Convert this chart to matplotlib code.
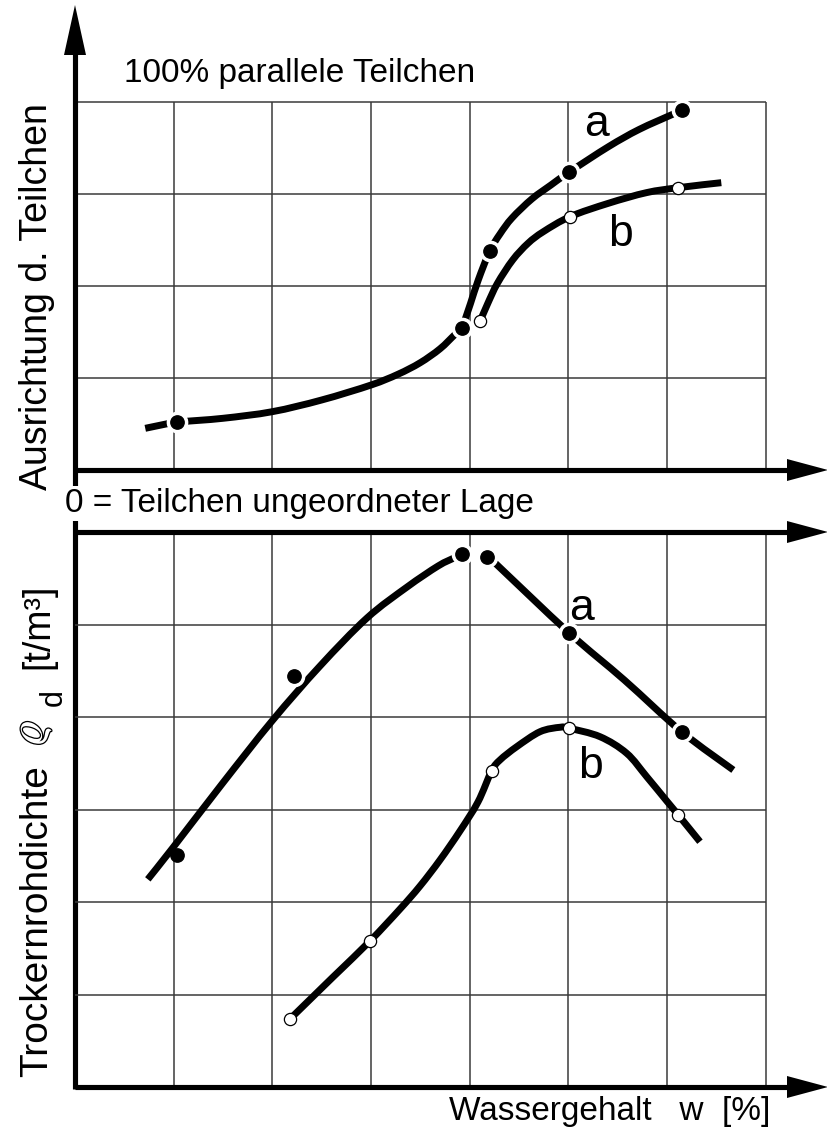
import matplotlib
matplotlib.use("Agg")
import matplotlib.pyplot as plt
import matplotlib.patheffects as pe
from matplotlib.path import Path
from matplotlib.patches import PathPatch

plt.rcParams['font.family'] = ['Liberation Sans', 'DejaVu Sans']

# ---------------- data (grid units) ----------------
# upper panel: particle orientation vs water content
top_a_line1_x = [0.712, 1.031, 1.500, 2.000, 2.500, 3.001, 3.274, 3.497, 3.699, 3.851, 3.924]
top_a_line1_y = [0.453, 0.518, 0.562, 0.634, 0.761, 0.924, 1.041, 1.165, 1.317, 1.473, 1.543]
top_a_line2_x = [3.924, 4.009, 4.087, 4.203, 4.307, 4.429, 4.630, 4.824, 5.010, 5.406, 5.716, 6.065, 6.151]
top_a_line2_y = [1.543, 1.812, 2.065, 2.380, 2.565, 2.739, 2.946, 3.098, 3.239, 3.514, 3.701, 3.870, 3.913]
top_a_pts_x = [1.031, 3.924, 4.203, 5.010, 6.151]
top_a_pts_y = [0.518, 1.543, 2.380, 3.239, 3.913]

top_b_line_x = [4.107, 4.184, 4.281, 4.436, 4.591, 4.746, 5.018, 5.406, 5.793, 6.115, 6.550]
top_b_line_y = [1.620, 1.812, 2.029, 2.283, 2.464, 2.590, 2.754, 2.899, 3.015, 3.069, 3.123]
top_b_pts_x = [4.107, 5.018, 6.115]
top_b_pts_y = [1.620, 2.754, 3.069]

# lower panel: dry density vs water content
bot_a_left_x = [0.738, 0.998, 1.490, 1.997, 2.483, 2.959, 3.365, 3.679, 3.841]
bot_a_left_y = [2.245, 2.595, 3.276, 3.957, 4.551, 5.070, 5.405, 5.632, 5.719]
bot_a_right_x = [4.257, 5.006, 5.567, 6.148, 6.672]
bot_a_right_y = [5.665, 4.911, 4.400, 3.841, 3.427]
bot_a_pts_x = [1.031, 2.221, 3.923, 4.173, 5.006, 6.148]
bot_a_pts_y = [2.508, 4.443, 5.762, 5.733, 4.911, 3.841]

bot_b_line_x = [2.179, 2.615, 2.990, 3.294, 3.497, 3.699, 3.902, 4.084, 4.223, 4.307,
                4.477, 4.713, 4.916, 5.010, 5.321, 5.591, 5.794, 5.997, 6.114, 6.334]
bot_b_line_y = [0.735, 1.189, 1.578, 1.924, 2.173, 2.454, 2.768, 3.081, 3.419, 3.535,
                3.679, 3.841, 3.889, 3.878, 3.787, 3.608, 3.355, 3.092, 2.941, 2.652]
bot_b_pts_x = [2.179, 2.990, 4.223, 5.010, 6.114]
bot_b_pts_y = [0.735, 1.578, 3.419, 3.878, 2.941]

grid_x = [1, 2, 3, 4, 5, 6, 7]
top_grid_y = [1, 2, 3, 4]
bot_grid_y = [1, 2, 3, 4, 5]

# ---------------- figure / layout ----------------
W, H = 828, 1131
fig = plt.figure(figsize=(W / 100, H / 100), dpi=100)

def fx(x):
    return x / W

def fy(y):
    return 1 - y / H

XSTEP = 98.67        # px per grid unit (x)
TSTEP = 92.0         # px per grid unit (upper y)
BSTEP = 92.5         # px per grid unit (lower y)
LEFT, TIP = 75, 828

ax1 = fig.add_axes([fx(LEFT), fy(470), (TIP - LEFT) / W, (470 - 5) / H])
ax1.set_xlim(0, (TIP - LEFT) / XSTEP)
ax1.set_ylim(0, (470 - 5) / TSTEP)
ax2 = fig.add_axes([fx(LEFT), fy(1087), (TIP - LEFT) / W, (1087 - 532) / H])
ax2.set_xlim(0, (TIP - LEFT) / XSTEP)
ax2.set_ylim(0, (1087 - 532) / BSTEP)
for ax in (ax1, ax2):
    ax.axis('off')

GRID_C = '#3a3a3a'
GRID_LW = 1.1
AX_LW = 3.7
xmax_tip = (TIP - LEFT) / XSTEP
x_head = (787 - LEFT) / XSTEP

# grids
ax1.vlines(grid_x, 0, 4, colors=GRID_C, lw=GRID_LW, zorder=1)
ax1.hlines(top_grid_y, 0, 7, colors=GRID_C, lw=GRID_LW, zorder=1)
ax2.vlines(grid_x, 0, 6, colors=GRID_C, lw=GRID_LW, zorder=1)
ax2.hlines(bot_grid_y, 0, 7, colors=GRID_C, lw=GRID_LW, zorder=1)

def h_arrow(ax, y, hh):
    ax.plot([0, x_head + 0.05], [y, y], color='k', lw=AX_LW,
            solid_capstyle='butt', clip_on=False, zorder=5)
    ax.fill([x_head, xmax_tip, x_head], [y - hh, y, y + hh], color='k',
            clip_on=False, zorder=5, lw=0)

h_arrow(ax1, 0, 11 / TSTEP)
h_arrow(ax2, 6, 11 / BSTEP)
h_arrow(ax2, 0, 11 / BSTEP)

# left vertical axis running through both panels with arrow on top
y_bottom = (470 - 1089) / TSTEP
y_head = (470 - 55) / TSTEP
y_tip = (470 - 5) / TSTEP
ax1.plot([0, 0], [y_bottom, y_head + 0.05], color='k', lw=AX_LW,
         solid_capstyle='butt', clip_on=False, zorder=5)
hw = 11 / XSTEP
ax1.fill([-hw, 0, hw], [y_head, y_tip, y_head], color='k', clip_on=False, zorder=5, lw=0)

# ---------------- curves ----------------
LW = 5.0
FMS = 9.6
OMS = 8.8

def curve(ax, xs, ys):
    """Smooth stroke through the read points (Catmull-Rom drawn as Bezier path)."""
    pts = list(zip(xs, ys))
    n = len(pts)
    verts = [pts[0]]
    codes = [Path.MOVETO]
    for i in range(n - 1):
        p0 = pts[i - 1] if i > 0 else pts[i]
        p1 = pts[i]
        p2 = pts[i + 1]
        p3 = pts[i + 2] if i + 2 < n else pts[i + 1]
        c1 = (p1[0] + (p2[0] - p0[0]) / 6, p1[1] + (p2[1] - p0[1]) / 6)
        c2 = (p2[0] - (p3[0] - p1[0]) / 6, p2[1] - (p3[1] - p1[1]) / 6)
        verts += [c1, c2, p2]
        codes += [Path.CURVE4] * 3
    patch = PathPatch(Path(verts, codes), fill=False, ec='k', lw=LW,
                      capstyle='butt', joinstyle='round', zorder=3, clip_on=False)
    ax.add_patch(patch)

def filled(ax, xs, ys, halo=None):
    if halo is None:
        halo = list(range(len(xs)))
    hx = [xs[i] for i in halo]
    hy = [ys[i] for i in halo]
    ax.plot(hx, hy, ls='none', marker='o', ms=FMS + 5, mfc='white', mec='white',
            clip_on=False, zorder=4)
    ax.plot(xs, ys, ls='none', marker='o', ms=FMS, mfc='k', mec='k',
            clip_on=False, zorder=6)

def hollow(ax, xs, ys):
    ax.plot(xs, ys, ls='none', marker='o', ms=OMS, mfc='white', mec='k', mew=0.9,
            clip_on=False, zorder=6)

curve(ax1, top_a_line1_x, top_a_line1_y)
curve(ax1, top_a_line2_x, top_a_line2_y)
filled(ax1, top_a_pts_x, top_a_pts_y)
curve(ax1, top_b_line_x, top_b_line_y)
hollow(ax1, top_b_pts_x, top_b_pts_y)

curve(ax2, bot_a_left_x, bot_a_left_y)
curve(ax2, bot_a_right_x, bot_a_right_y)
filled(ax2, bot_a_pts_x, bot_a_pts_y, halo=[1, 2, 3, 4, 5])
curve(ax2, bot_b_line_x, bot_b_line_y)
hollow(ax2, bot_b_pts_x, bot_b_pts_y)

# ---------------- texts ----------------
def ptext(x, y, s, size, **kw):
    return fig.text(fx(x), fy(y), s, fontsize=size, ha=kw.pop('ha', 'left'),
                    va=kw.pop('va', 'baseline'), **kw)

ptext(124, 82, "100% parallele Teilchen", 24)
ptext(65, 512, "0 = Teilchen ungeordneter Lage", 24, zorder=10,
      bbox=dict(boxstyle='square,pad=0.05', fc='white', ec='none'))
ptext(449, 1120, "Wassergehalt   w  [%]", 24)

ptext(584, 136, "a", 32)
ptext(608, 246, "b", 32)
ptext(569, 620, "a", 32)
ptext(578, 778, "b", 32)

# rotated y labels
def vtext(x, y, s, size, **kw):
    return fig.text(fx(x), fy(y), s, fontsize=size, rotation=90,
                    rotation_mode='anchor', ha='left', va='baseline', **kw)

vtext(47, 490, "Ausrichtung d. Teilchen", 27)
vtext(47, 1077, "Trockernrohdichte", 28)
vtext(42, 745, r"$\varrho$", 34, color='white', math_fontfamily='stix',
      path_effects=[pe.withStroke(linewidth=1.8, foreground='black')])
vtext(62, 706, "d", 22)
vtext(48, 669, "[t/m\u00b3]", 27)

fig.savefig("out.png", dpi=100)
